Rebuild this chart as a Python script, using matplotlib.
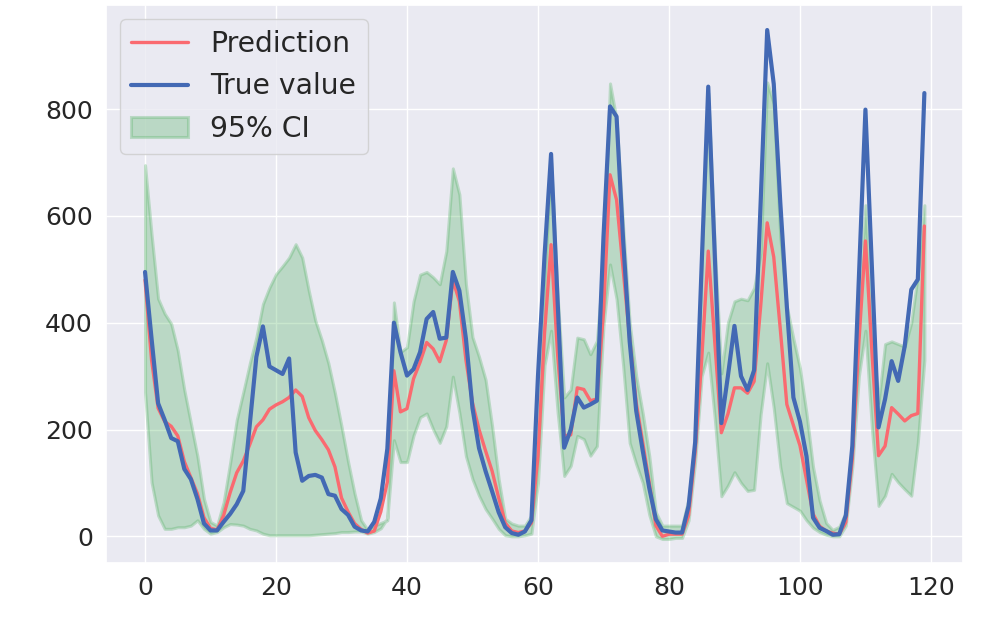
import numpy as np
import matplotlib
matplotlib.use("Agg")
import matplotlib.pyplot as plt
import seaborn as sns

true_value = [495, 370, 249, 218, 184, 178, 126, 107, 70, 24,
              11, 11, 27, 42, 60, 85, 210, 336, 393, 318,
              311, 304, 333, 157, 104, 113, 115, 110, 79, 76,
              51, 40, 18, 11, 9, 27, 71, 164, 400, 345,
              301, 313, 345, 407, 420, 370, 372, 495, 460, 370,
              240, 165, 122, 84, 45, 17, 6, 3, 9, 30,
              300, 525, 716, 440, 166, 200, 260, 241, 247, 254,
              560, 805, 786, 555, 365, 235, 160, 90, 32, 11,
              9, 7, 7, 57, 176, 510, 842, 525, 212, 300,
              394, 300, 274, 311, 625, 948, 847, 625, 430, 260,
              215, 150, 35, 16, 10, 3, 4, 39, 169, 484,
              799, 500, 204, 257, 328, 291, 356, 462, 481, 830]

prediction = [480, 330, 240, 215, 206, 188, 140, 110, 80, 35,
              15, 12, 39, 82, 119, 141, 172, 205, 218, 238,
              246, 252, 260, 274, 262, 222, 198, 181, 162, 130,
              72, 46, 24, 13, 6, 10, 46, 102, 310, 233,
              239, 295, 326, 363, 351, 327, 367, 480, 440, 330,
              250, 200, 160, 122, 72, 25, 10, 7, 10, 25,
              150, 380, 546, 340, 188, 190, 278, 275, 254, 257,
              420, 677, 630, 500, 370, 250, 175, 100, 20, 0,
              4, 4, 4, 39, 157, 331, 534, 363, 194, 229,
              278, 278, 268, 290, 430, 587, 523, 388, 247, 208,
              170, 106, 42, 19, 10, 6, 4, 26, 145, 363,
              553, 344, 151, 169, 241, 229, 216, 226, 230, 581]

ci_upper = [695, 565, 445, 417, 398, 348, 274, 212, 150, 70,
            27, 20, 64, 138, 218, 270, 324, 373, 435, 466,
            491, 506, 522, 547, 522, 460, 404, 367, 324, 268,
            206, 140, 80, 30, 12, 20, 25, 30, 438, 345,
            354, 440, 490, 495, 485, 472, 534, 689, 640, 472,
            373, 336, 293, 206, 107, 33, 24, 20, 20, 39,
            200, 480, 700, 450, 260, 275, 372, 369, 341, 366,
            518, 848, 780, 580, 400, 300, 230, 150, 45, 20,
            20, 20, 20, 70, 185, 520, 830, 540, 305, 400,
            440, 445, 442, 465, 530, 850, 810, 560, 430, 370,
            315, 230, 130, 67, 25, 12, 18, 45, 180, 420,
            620, 380, 250, 360, 365, 360, 355, 400, 490, 620]

ci_lower = [270, 101, 39, 14, 14, 17, 17, 20, 30, 14,
            5, 8, 17, 23, 22, 20, 14, 11, 5, 2,
            2, 2, 2, 2, 2, 2, 3, 4, 5, 6,
            8, 8, 9, 9, 5, 8, 15, 34, 180, 139,
            139, 189, 223, 230, 200, 175, 206, 299, 231, 150,
            107, 76, 51, 33, 14, 2, 0, 0, 2, 5,
            100, 320, 385, 232, 113, 132, 188, 182, 151, 169,
            394, 509, 444, 320, 175, 135, 100, 40, 0, -5,
            -5, -3, -3, 30, 140, 300, 344, 220, 75, 95,
            120, 100, 85, 87, 228, 324, 240, 130, 62, 55,
            48, 30, 16, 8, 3, 0, 0, 20, 130, 300,
            385, 200, 57, 76, 117, 101, 88, 76, 176, 330]

x = np.arange(len(true_value))

sns.set_theme(style="darkgrid")
plt.rcParams['font.family'] = ['DejaVu Sans']

fig, ax = plt.subplots(figsize=(9.82, 6.17), dpi=100)
fig.subplots_adjust(left=0.108, right=0.981, top=0.992, bottom=0.0875)

ax.plot(x, prediction, color='#FA6A70', linewidth=2.4, label='Prediction')
ax.plot(x, true_value, color='#4369B4', linewidth=3.0, label='True value')
ax.fill_between(x, ci_lower, ci_upper, color='#4DB05E', alpha=0.3,
                linewidth=2.2, label='95% CI')

ax.set_ylim(-50, 995)
ax.set_xticks([0, 20, 40, 60, 80, 100, 120])
ax.set_yticks([0, 200, 400, 600, 800])
ax.tick_params(labelsize=18)
ax.legend(loc='upper left', fontsize=20.3)

fig.savefig('out.png', dpi=100)
